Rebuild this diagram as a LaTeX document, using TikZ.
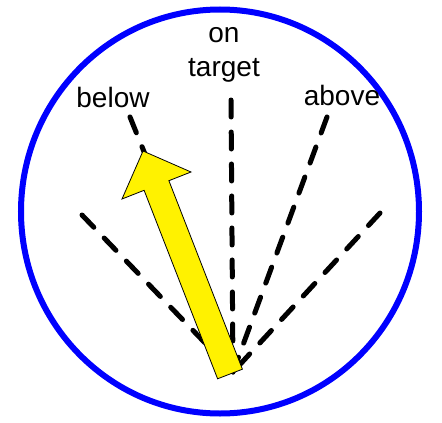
\documentclass[tikz,border=0pt]{standalone}
\usepackage{fontspec}
\setmainfont{Liberation Sans}
\begin{document}
\begin{tikzpicture}[x=1pt,y=-1pt,
  guide/.style={line width=5pt,dash pattern=on 17pt off 15pt,line cap=round},
  lbl/.style={font=\fontsize{28}{34}\selectfont,inner sep=0pt,anchor=base},
  ring/.style={draw=blue,line width=6pt}]
\useasboundingbox (0,0) rectangle (442,423);
\draw[ring] (220,211.5) ellipse [x radius=199,y radius=202];
\coordinate (c) at (233,372);
\coordinate (l) at (82,215);
\coordinate (b) at (130,117);
\coordinate (o) at (231,100);
\coordinate (a) at (327,117);
\coordinate (r) at (380,213);
\foreach \p in {l,b,o,a,r} \draw[guide] (\p) -- (c);
\draw[fill=yellow,line width=0.8pt] (217.6,378.8) -- (242.4,369.2) -- (168.9,180.7) -- (191,172) -- (143,151) -- (122,199) -- (144.1,190.3) -- cycle;
\node[lbl] (tb) at (113,107) {below};
\node[lbl] (ta) at (342,105) {above};
\node[lbl,align=center] (to) at (224,76) {on\\target};
\end{tikzpicture}
\end{document}
